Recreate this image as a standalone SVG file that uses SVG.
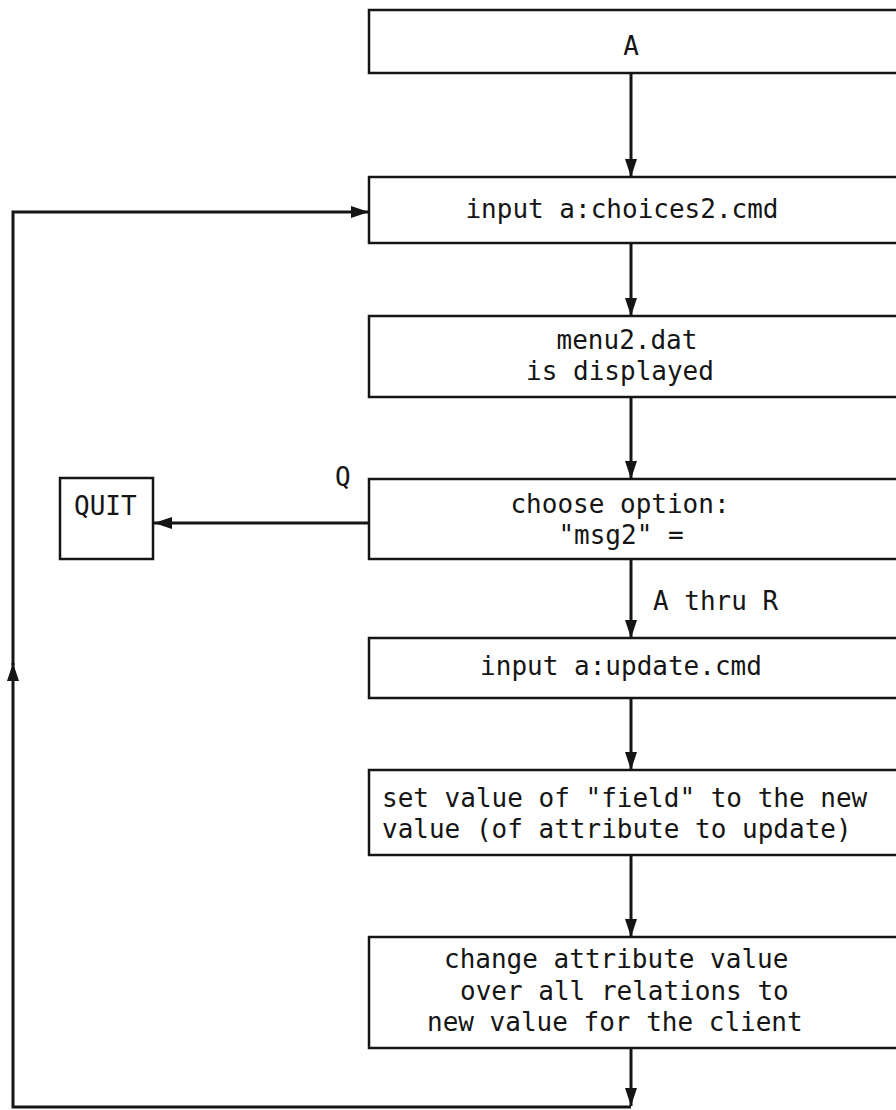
<svg xmlns="http://www.w3.org/2000/svg" width="896" height="1110" viewBox="0 0 896 1110">
<defs>
<style>
.box{fill:#fff;stroke:#151515;stroke-width:2.5}
.ln{fill:none;stroke:#151515;stroke-width:3}
.t{font-family:"DejaVu Sans Mono","Liberation Mono",monospace;font-size:26px;fill:#151515}
.c{text-anchor:middle}
</style>
<marker id="ah" markerUnits="userSpaceOnUse" markerWidth="18" markerHeight="12" refX="18" refY="6" orient="auto">
<path d="M0,0 L18,6 L0,12 z" fill="#151515"/>
</marker>
</defs>
<rect width="896" height="1110" fill="#fff"/>
<g id="connectors">
<line class="ln" x1="631" y1="73" x2="631" y2="177" marker-end="url(#ah)"/>
<line class="ln" x1="631" y1="243" x2="631" y2="316" marker-end="url(#ah)"/>
<line class="ln" x1="631" y1="397" x2="631" y2="479" marker-end="url(#ah)"/>
<line class="ln" x1="369" y1="523" x2="154" y2="523" marker-end="url(#ah)"/>
<line class="ln" x1="631" y1="559" x2="631" y2="638" marker-end="url(#ah)"/>
<line class="ln" x1="631" y1="698" x2="631" y2="770" marker-end="url(#ah)"/>
<line class="ln" x1="631" y1="855" x2="631" y2="937" marker-end="url(#ah)"/>
<line class="ln" x1="631" y1="1048" x2="631" y2="1106" marker-end="url(#ah)"/>
<polyline class="ln" points="631,1107 13,1107 13,663"/>
<polyline class="ln" points="13,665 13,212 369,212" marker-end="url(#ah)"/>
<path d="M13,663 L7,681 L19,681 z" fill="#151515"/>
<text class="t" x="335" y="486">Q</text>
<text class="t" x="653" y="610">A thru R</text>
</g>
<g id="nodeA">
<rect class="box" x="369" y="10" width="560" height="63"/>
<text class="t c" x="631" y="55">A</text>
</g>
<g id="nodeChoices">
<rect class="box" x="369" y="177" width="560" height="66"/>
<text class="t c" x="622" y="218">input a:choices2.cmd</text>
</g>
<g id="nodeMenu">
<rect class="box" x="369" y="316" width="560" height="81"/>
<text class="t c" x="627" y="349">menu2.dat</text>
<text class="t c" x="620" y="380">is displayed</text>
</g>
<g id="nodeChoose">
<rect class="box" x="369" y="479" width="560" height="80"/>
<text class="t c" x="620" y="513">choose option:</text>
<text class="t c" x="621" y="544">"msg2" =</text>
</g>
<g id="nodeQuit">
<rect class="box" x="60" y="478" width="93" height="81"/>
<text class="t" x="74" y="515">QUIT</text>
</g>
<g id="nodeUpdate">
<rect class="box" x="369" y="638" width="560" height="60"/>
<text class="t c" x="621" y="675">input a:update.cmd</text>
</g>
<g id="nodeSet">
<rect class="box" x="369" y="770" width="560" height="85"/>
<text class="t" x="382" y="807">set value of "field" to the new</text>
<text class="t" x="382" y="838">value (of attribute to update)</text>
</g>
<g id="nodeChange">
<rect class="box" x="369" y="937" width="560" height="111"/>
<text class="t" x="444" y="968">change attribute value</text>
<text class="t" x="460" y="1000">over all relations to</text>
<text class="t" x="427" y="1031">new value for the client</text>
</g>
</svg>
